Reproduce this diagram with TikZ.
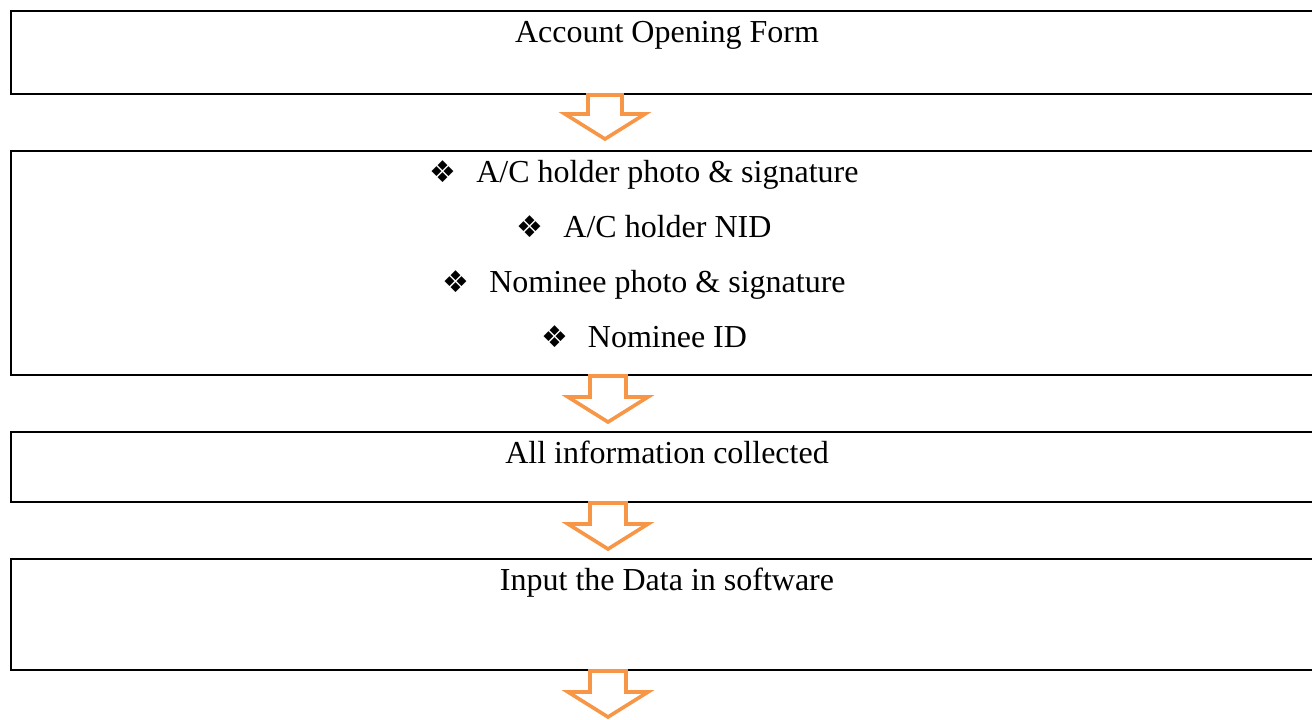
\documentclass[tikz,border=0pt]{standalone}
\usepackage{fontspec}
\setmainfont{Liberation Serif}
\newfontfamily\bulletfont{DejaVu Sans}
\usepackage{xcolor}
\definecolor{myorange}{RGB}{247,150,70}
\usetikzlibrary{positioning, calc}

\newcommand{\itembullet}{{\bulletfont\fontsize{15pt}{15pt}\selectfont ❖}\hspace{10pt}}

\begin{document}
\begin{tikzpicture}[
  x=0.5pt, y=-0.5pt,
  font=\fontsize{16pt}{19pt}\selectfont,
  stepbox/.style={rectangle, draw=black, line width=1pt,
                  minimum width=656pt, inner sep=0pt},
  boxtext/.style={anchor=base, inner sep=0pt},
  flowarrow/.style={draw=myorange, line width=1.8pt, fill=white,
                    line join=miter},
]
\clip (0,0) rectangle (1312,719);

%% --- cadres ---
\node[stepbox, minimum height=41.5pt] (form) at (667,52.5) {};
\node[stepbox, minimum height=112pt, below=27.5pt of form] (docs) {};
\node[stepbox, minimum height=35pt, below=27.5pt of docs] (collected) {};
\node[stepbox, minimum height=55.5pt, below=27.5pt of collected] (software) {};

%% --- textes ---
\node[boxtext] (formtext) at ($(form.north)+(0,32)$) {Account Opening Form};
\node[boxtext] (item1) at ($(docs.north)+(-23,32)$)
  {\itembullet A/C holder photo \& signature};
\node[boxtext] (item2) at ($(docs.north)+(-23,87)$)
  {\itembullet A/C holder NID};
\node[boxtext] (item3) at ($(docs.north)+(-23,142)$)
  {\itembullet Nominee photo \& signature};
\node[boxtext] (item4) at ($(docs.north)+(-23,197)$)
  {\itembullet Nominee ID};
\node[boxtext] (collectedtext) at ($(collected.north)+(0,32)$)
  {All information collected};
\node[boxtext] (softwaretext) at ($(software.north)+(0,32)$)
  {Input the Data in software};

%% --- flèches ---
\draw[flowarrow, shift={($(form.south)+(-62,0)$)}]
  (-17,0) -- (17,0) -- (17,19) -- (40,19) -- (0,44) -- (-40,19) -- (-17,19) -- cycle;
\foreach \stepname in {docs, collected, software}
  \draw[flowarrow, shift={($(\stepname.south)+(-59,0)$)}]
    (-18,0) -- (18,0) -- (18,21) -- (40,21) -- (0,46) -- (-40,21) -- (-18,21) -- cycle;
\end{tikzpicture}
\end{document}
